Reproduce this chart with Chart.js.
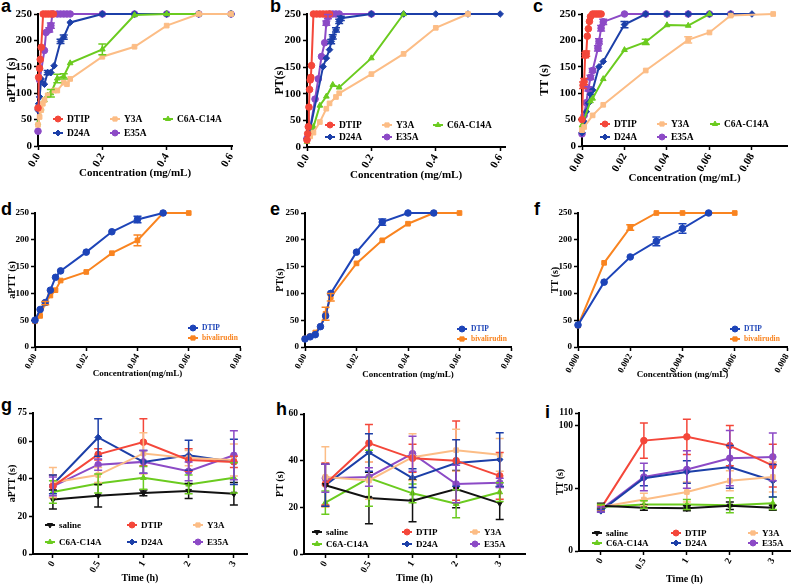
<!DOCTYPE html>
<html>
<head>
<meta charset="utf-8">
<script src="https://cdn.jsdelivr.net/npm/chart.js@4.4.0/dist/chart.umd.min.js"></script>
<style>
body { margin: 0; background: #fff; width: 796px; height: 584px; position: relative; overflow: hidden; }
canvas { position: absolute; }
.lbl { position: absolute; font: bold 18px "Liberation Sans", Arial, sans-serif; line-height: 18px; color: #000; }
</style>
</head>
<body>
<div class="lbl" style="left:1px;top:-3px">a</div>
<div class="lbl" style="left:270px;top:-3px">b</div>
<div class="lbl" style="left:533px;top:-3px">c</div>
<div class="lbl" style="left:1px;top:200px">d</div>
<div class="lbl" style="left:270px;top:200px">e</div>
<div class="lbl" style="left:534px;top:200px">f</div>
<div class="lbl" style="left:1px;top:396px">g</div>
<div class="lbl" style="left:276px;top:400px">h</div>
<div class="lbl" style="left:545px;top:403px">i</div>
<canvas id="ca"></canvas><canvas id="cb"></canvas><canvas id="cc"></canvas>
<canvas id="cd"></canvas><canvas id="ce"></canvas><canvas id="cf"></canvas>
<canvas id="cg"></canvas><canvas id="ch"></canvas><canvas id="ci"></canvas>
<script>
// ---- data: panel a (aPTT, mg/mL) ----
const aDTIPx = [0, 0.002, 0.005, 0.007, 0.01, 0.016, 0.024, 0.032, 0.04, 0.048];
const aDTIPy = [72, 130, 147, 164, 187, 250, 250, 250, 250, 250];
const aY3Ax = [0, 0.005, 0.01, 0.015, 0.02, 0.03, 0.05, 0.06, 0.08, 0.09, 0.1, 0.2, 0.3, 0.4, 0.5, 0.6];
const aY3Ay = [40, 55, 68, 80, 87, 96, 105, 105, 120, 117, 127, 169, 188, 228, 250, 250];
const aC6Ax = [0, 0.01, 0.02, 0.03, 0.04, 0.06, 0.08, 0.1, 0.2, 0.3, 0.4, 0.5, 0.6];
const aC6Ay = [43, 71, 87, 96, 100, 128, 132, 157, 183, 248, 250, 250, 250];
const aC6Ae = [0, 0, 0, 0, 7, 8, 5, 0, 10, 0, 0, 0, 0];
const aD24x = [0, 0.002, 0.005, 0.01, 0.02, 0.03, 0.04, 0.05, 0.07, 0.08, 0.1, 0.2, 0.3, 0.4, 0.5, 0.6];
const aD24y = [68, 80, 93, 127, 117, 139, 139, 152, 198, 206, 234, 250, 250, 250, 250, 250];
const aD24e = [0, 0, 0, 0, 0, 4, 0, 0, 4, 4, 0, 0, 0, 0, 0, 0];
const aE35x = [0, 0.005, 0.02, 0.025, 0.035, 0.04, 0.045, 0.06, 0.07, 0.08, 0.09, 0.1, 0.2, 0.3, 0.4, 0.5, 0.6];
const aE35y = [28, 125, 181, 215, 220, 228, 250, 250, 250, 250, 250, 250, 250, 250, 250, 250, 250];
const aE35e = [0, 0, 0, 0, 4, 5, 0, 0, 0, 0, 0, 0, 0, 0, 0, 0, 0];

// ---- panel b (PT) ----
const bDTIPx = [0, 0.002, 0.004, 0.006, 0.008, 0.01, 0.012, 0.014, 0.02, 0.03, 0.04, 0.05, 0.06, 0.07];
const bDTIPy = [13, 25, 38, 75, 108, 126, 131, 153, 250, 250, 250, 250, 250, 250];
const bY3Ax = [0, 0.01, 0.02, 0.04, 0.06, 0.07, 0.09, 0.1, 0.2, 0.3, 0.4, 0.5];
const bY3Ay = [13, 20, 27, 47, 72, 82, 94, 101, 137, 175, 224, 250];
const bC6Ax = [0, 0.02, 0.04, 0.06, 0.08, 0.1, 0.2, 0.3];
const bC6Ay = [10, 38, 78, 95, 117, 112, 167, 250];
const bD24x = [0, 0.01, 0.05, 0.06, 0.07, 0.075, 0.08, 0.09, 0.1, 0.105, 0.2, 0.3, 0.4, 0.5, 0.6];
const bD24y = [16, 35, 151, 167, 183, 198, 207, 220, 236, 242, 250, 250, 250, 250, 250];
const bD24e = [0, 0, 0, 0, 0, 4, 4, 4, 4, 4, 0, 0, 0, 0, 0];
const bE35x = [0, 0.005, 0.01, 0.025, 0.035, 0.045, 0.055, 0.06, 0.065, 0.07, 0.08, 0.09, 0.1, 0.2];
const bE35y = [16, 25, 35, 90, 128, 170, 196, 233, 245, 250, 250, 250, 250, 250];
const bE35e = [0, 0, 0, 0, 0, 0, 0, 4, 4, 0, 0, 0, 0, 0];

// ---- panel c (TT) ----
const cDTIPx = [0, 0.0005, 0.001, 0.0015, 0.002, 0.0025, 0.003, 0.0035, 0.004, 0.005, 0.006, 0.007, 0.008, 0.009];
const cDTIPy = [50, 115, 122, 172, 175, 208, 222, 236, 245, 250, 250, 250, 250, 250];
const cDTIPe = [0, 6, 6, 5, 5, 0, 0, 0, 0, 0, 0, 0, 0, 0];
const cY3Ax = [0, 0.001, 0.005, 0.01, 0.03, 0.05, 0.06, 0.07, 0.09];
const cY3Ay = [30, 36, 58, 78, 143, 201, 215, 247, 250];
const cY3Ae = [0, 0, 0, 0, 0, 6, 0, 0, 0];
const cC6Ax = [0, 0.004, 0.005, 0.01, 0.02, 0.03, 0.04, 0.05, 0.06];
const cC6Ay = [39, 85, 90, 127, 182, 197, 229, 228, 250];
const cC6Ae = [0, 0, 0, 0, 0, 5, 0, 0, 0];
const cD24x = [0, 0.001, 0.002, 0.003, 0.004, 0.005, 0.008, 0.01, 0.02, 0.03, 0.04, 0.05, 0.06, 0.07, 0.08];
const cD24y = [25, 46, 65, 81, 98, 106, 150, 160, 230, 250, 250, 250, 250, 250, 250];
const cD24e = [0, 0, 0, 0, 0, 0, 0, 0, 6, 0, 0, 0, 0, 0, 0];
const cE35x = [0, 0.001, 0.002, 0.003, 0.004, 0.005, 0.0075, 0.008, 0.009, 0.01, 0.02, 0.03, 0.04, 0.05, 0.06, 0.07];
const cE35y = [23, 58, 82, 108, 130, 143, 185, 198, 223, 235, 250, 250, 250, 250, 250, 250];
const cE35e = [0, 0, 0, 4, 4, 4, 5, 5, 5, 5, 0, 0, 0, 0, 0, 0];

// ---- panels d-f: DTIP vs bivalirudin ----
const dDTIPx = [0, 0.002, 0.004, 0.006, 0.008, 0.01, 0.02, 0.03, 0.04, 0.05];
const dDTIPy = [50, 70, 83, 106, 130, 142, 177, 215, 238, 250];
const dDTIPe = [0, 0, 0, 0, 0, 0, 0, 0, 6, 0];
const dBivx = [0, 0.002, 0.004, 0.006, 0.008, 0.01, 0.02, 0.03, 0.04, 0.05, 0.06];
const dBivy = [48, 58, 82, 96, 106, 124, 140, 175, 199, 250, 250];
const dBive = [0, 0, 3, 0, 0, 0, 0, 0, 10, 0, 0];

const eDTIPx = [0, 0.002, 0.004, 0.006, 0.008, 0.01, 0.02, 0.03, 0.04, 0.05];
const eDTIPy = [15, 19, 23, 38, 58, 100, 177, 233, 250, 250];
const eDTIPe = [0, 0, 0, 0, 0, 0, 0, 6, 0, 0];
const eBivx = [0, 0.002, 0.004, 0.006, 0.008, 0.01, 0.02, 0.03, 0.04, 0.05, 0.06];
const eBivy = [16, 20, 27, 38, 62, 93, 156, 199, 230, 250, 250];
const eBive = [0, 0, 0, 0, 12, 7, 0, 0, 0, 0, 0];

const fDTIPx = [0, 0.001, 0.002, 0.003, 0.004, 0.005];
const fDTIPy = [41, 121, 168, 197, 221, 250];
const fDTIPe = [0, 0, 0, 8, 9, 0];
const fBivx = [0, 0.001, 0.002, 0.003, 0.004, 0.005, 0.006];
const fBivy = [40, 157, 223, 250, 250, 250, 250];
const fBive = [0, 0, 5, 0, 0, 0, 0];

// ---- panels g-i: time course ----
const timeLabels = ['0', '0.5', '1', '2', '3'];
const gSaline = [29, 31, 32.5, 33.5, 32],   gSalineE = [5, 6, 1.5, 4, 6];
const gDTIP = [36, 53, 59.5, 50, 49],       gDTIPE = [6, 3, 12.5, 6, 3];
const gY3A = [38, 42, 53.5, 51, 50],        gY3AE = [8, 4, 11, 4, 8.5];
const gC6A = [33, 37.5, 40.5, 37, 40.5],    gC6AE = [6, 5, 6, 5, 8];
const gD24A = [37, 62, 49, 52.5, 49],       gD24AE = [5, 10, 6, 8, 12];
const gE35A = [36, 47.5, 49, 44, 52.5],     gE35AE = [5, 3, 6, 5, 13];

const hSaline = [29.5, 24, 22.8, 27.8, 21.8], hSalineE = [9, 11, 9, 8, 7];
const hDTIP = [30, 47.5, 41, 40, 33.5],       hDTIPE = [9, 8, 6, 17, 10];
const hY3A = [33, 31.5, 41.5, 44.5, 42.5],    hY3AE = [13, 8, 10, 9, 7];
const hC6A = [22, 32.5, 26, 21.5, 26.5],      hC6AE = [5, 12, 4, 6, 4];
const hD24A = [29.5, 43.5, 32.5, 39, 40.5],   hD24AE = [9, 8, 4, 10, 11.5];
const hE35A = [32.5, 33, 43, 30, 30.5],       hE35AE = [6, 4, 7.5, 8, 2];

const iSaline = [36, 34.5, 34, 36, 34.5], iSalineE = [2, 2, 2, 3, 2];
const iDTIP = [34, 88, 91, 84, 68],       iDTIPE = [2, 14, 14, 16, 17];
const iY3A = [35, 41, 47, 56, 59],        iY3AE = [2, 5, 8, 8, 12];
const iC6A = [35, 37, 37, 36.5, 38],      iC6AE = [2, 3, 4, 6, 5];
const iD24A = [32, 58, 63, 67, 56],       iD24AE = [1, 6, 9, 17, 13];
const iE35A = [33, 59, 65, 74, 75],       iE35AE = [2, 11, 15, 22, 19];

const RED = '#F4473A', PEACH = '#FCBD86', GREEN = '#6BCB1F', BLUE = '#1C3FA8', PURPLE = '#8C4AC6', BLACK = '#111111';
const DBLUE = '#1D44B8', ORANGE = '#F98420';
const SERIF = '"Liberation Serif", "Times New Roman", serif';

function xy(xs, ys) { return xs.map((x, i) => ({ x: x, y: ys[i] })); }
function idx(ys) { return ys.map((y, i) => ({ x: i, y: y })); }

function ser(label, color, style, data, err, r, rot) {
    return {
        label, data, errors: err, borderColor: color, backgroundColor: color,
        pointBackgroundColor: color, pointBorderColor: color, pointStyle: style,
        pointRadius: r || 3.3, pointBorderWidth: 1, pointRotation: rot || 0,
        borderWidth: 2, tension: 0, clip: false
    };
}

const errorBars = {
    id: 'errorBars',
    afterDatasetsDraw(chart) {
        const ctx = chart.ctx, ys = chart.scales.y;
        chart.data.datasets.forEach((ds, i) => {
            if (!ds.errors) return;
            const meta = chart.getDatasetMeta(i);
            ctx.save();
            ctx.strokeStyle = ds.borderColor;
            ctx.lineWidth = 1.5;
            meta.data.forEach((pt, j) => {
                const e = ds.errors[j];
                if (!e) return;
                const v = ds.data[j].y;
                const t = ys.getPixelForValue(v + e), b = ys.getPixelForValue(v - e);
                ctx.beginPath();
                ctx.moveTo(pt.x, t); ctx.lineTo(pt.x, b);
                ctx.moveTo(pt.x - 4, t); ctx.lineTo(pt.x + 4, t);
                ctx.moveTo(pt.x - 4, b); ctx.lineTo(pt.x + 4, b);
                ctx.stroke();
            });
            ctx.restore();
        });
    }
};

function makePanel(id, box, area, cfg) {
    const cv = document.getElementById(id);
    cv.width = box.w; cv.height = box.h;
    cv.style.left = box.x + 'px'; cv.style.top = box.y + 'px';
    const yLh = cfg.yTitleFont * 1.2, xLh = cfg.xTitleFont * 1.2;
    const padLeft = cfg.yTitleX - box.x - yLh / 2;
    const scaleBottom = cfg.xTitleY - box.y + xLh / 2;
    const lg = cfg.legend;

    const legendPlugin = {
        id: 'panelLegend',
        afterDraw(chart) {
            const ctx = chart.ctx;
            ctx.save();
            chart.data.datasets.forEach((ds, i) => {
                const cx = lg.cols[i % lg.cols.length] - box.x;
                const cy = lg.rows[Math.floor(i / lg.cols.length)] - box.y;
                ctx.strokeStyle = ds.borderColor;
                ctx.fillStyle = ds.borderColor;
                ctx.lineWidth = 2;
                ctx.beginPath(); ctx.moveTo(cx - 5, cy); ctx.lineTo(cx + 5, cy); ctx.stroke();
                ctx.lineWidth = 1;
                Chart.helpers.drawPoint(ctx, { pointStyle: ds.pointStyle, radius: 3, rotation: ds.pointRotation, borderWidth: 1 }, cx, cy);
                ctx.fillStyle = lg.colored ? ds.borderColor : '#000';
                ctx.font = 'bold ' + lg.font + 'px ' + SERIF;
                ctx.textBaseline = 'middle';
                ctx.textAlign = 'left';
                ctx.fillText(ds.label, cx + 9, cy + 0.5);
            });
            ctx.restore();
        }
    };

    const axisCommon = {
        type: 'linear',
        bounds: 'data',
        grid: { display: true, drawOnChartArea: false, drawTicks: true, tickLength: 4, tickWidth: 1.5, tickColor: '#000' },
        border: { display: true, color: '#000', width: 2 }
    };

    new Chart(cv, {
        type: 'line',
        data: { datasets: cfg.datasets },
        options: {
            responsive: false,
            animation: false,
            events: [],
            layout: { padding: { left: padLeft, top: area.t - box.y, right: box.x + box.w - area.r, bottom: box.h - scaleBottom } },
            plugins: { legend: { display: false }, tooltip: { enabled: false } },
            scales: {
                x: Object.assign({}, axisCommon, {
                    min: cfg.xMin, max: cfg.xMax,
                    ticks: {
                        stepSize: cfg.xStep, includeBounds: false, minRotation: 60, maxRotation: 60, padding: 1,
                        color: '#000', font: { family: SERIF, size: cfg.tickFont, weight: 'bold' },
                        callback: v => cfg.xLabels ? cfg.xLabels[Math.round(v)] : v.toFixed(cfg.xDec)
                    },
                    afterBuildTicks(s) {
                        if (cfg.xLabels) s.ticks = cfg.xLabels.map((_, i) => ({ value: i }));
                    },
                    title: { display: true, text: cfg.xTitle, color: '#000', padding: 0, font: { family: SERIF, size: cfg.xTitleFont, weight: 'bold' } },
                    afterFit(s) { s.height = scaleBottom - (area.b - box.y); s.paddingLeft = 0; s.paddingRight = 0; s.paddingTop = 0; s.paddingBottom = 0; }
                }),
                y: Object.assign({}, axisCommon, {
                    min: 0, max: cfg.yMax,
                    ticks: { stepSize: cfg.yStep, includeBounds: false, padding: 2, color: '#000', font: { family: SERIF, size: cfg.tickFont, weight: 'bold' } },
                    title: { display: true, text: cfg.yTitle, color: '#000', padding: 0, font: { family: SERIF, size: cfg.yTitleFont, weight: 'bold' } },
                    afterFit(s) { s.width = area.l - box.x - padLeft; s.paddingLeft = 0; s.paddingRight = 0; s.paddingTop = 0; s.paddingBottom = 0; }
                })
            }
        },
        plugins: [errorBars, legendPlugin]
    });
}

// ---- top row ----
const topBase = { tickFont: 11, xTitleFont: 11, yTitleFont: 12, yMax: 250, yStep: 50, xMin: 0 };

makePanel('ca', { x: 0, y: 0, w: 265, h: 195 }, { l: 38, t: 14, r: 232, b: 146 }, Object.assign({}, topBase, {
    yTitle: 'aPTT (s)', xTitle: 'Concentration (mg/mL)', yTitleX: 12, xTitleY: 173,
    xMax: 0.603, xStep: 0.2, xDec: 1,
    legend: { cols: [58, 115, 168], rows: [119, 133], font: 9.5, colored: false },
    datasets: [
        ser('DTIP', RED, 'circle', xy(aDTIPx, aDTIPy)),
        ser('Y3A', PEACH, 'rect', xy(aY3Ax, aY3Ay)),
        ser('C6A-C14A', GREEN, 'triangle', xy(aC6Ax, aC6Ay), aC6Ae),
        ser('D24A', BLUE, 'rectRot', xy(aD24x, aD24y), aD24e),
        ser('E35A', PURPLE, 'circle', xy(aE35x, aE35y), aE35e)
    ]
}));

makePanel('cb', { x: 265, y: 0, w: 265, h: 195 }, { l: 307, t: 14, r: 505, b: 147 }, Object.assign({}, topBase, {
    yTitle: 'PT(s)', xTitle: 'Concentration (mg/mL)', yTitleX: 280, xTitleY: 175,
    xMax: 0.615, xStep: 0.2, xDec: 1,
    legend: { cols: [330, 387, 438], rows: [125, 137], font: 9.5, colored: false },
    datasets: [
        ser('DTIP', RED, 'circle', xy(bDTIPx, bDTIPy)),
        ser('Y3A', PEACH, 'rect', xy(bY3Ax, bY3Ay)),
        ser('C6A-C14A', GREEN, 'triangle', xy(bC6Ax, bC6Ay)),
        ser('D24A', BLUE, 'rectRot', xy(bD24x, bD24y), bD24e),
        ser('E35A', PURPLE, 'circle', xy(bE35x, bE35y), bE35e)
    ]
}));

makePanel('cc', { x: 530, y: 0, w: 266, h: 195 }, { l: 582, t: 14, r: 787, b: 146 }, Object.assign({}, topBase, {
    yTitle: 'TT (s)', xTitle: 'Concentration (mg/mL)', yTitleX: 545, xTitleY: 178,
    xMax: 0.0965, xStep: 0.02, xDec: 2,
    legend: { cols: [605, 662, 715], rows: [124, 137], font: 9.5, colored: false },
    datasets: [
        ser('DTIP', RED, 'circle', xy(cDTIPx, cDTIPy), cDTIPe),
        ser('Y3A', PEACH, 'rect', xy(cY3Ax, cY3Ay), cY3Ae),
        ser('C6A-C14A', GREEN, 'triangle', xy(cC6Ax, cC6Ay), cC6Ae),
        ser('D24A', BLUE, 'rectRot', xy(cD24x, cD24y), cD24e),
        ser('E35A', PURPLE, 'circle', xy(cE35x, cE35y), cE35e)
    ]
}));

// ---- middle row ----
const midBase = { tickFont: 9, xTitleFont: 9, yTitleFont: 10, yMax: 250, yStep: 50, xMin: 0 };

makePanel('cd', { x: 0, y: 195, w: 265, h: 195 }, { l: 35, t: 213, r: 240, b: 347 }, Object.assign({}, midBase, {
    yTitle: 'aPTT (s)', xTitle: 'Concentration(mg/mL)', yTitleX: 12, xTitleY: 374,
    xMax: 0.08, xStep: 0.02, xDec: 2,
    legend: { cols: [193], rows: [328, 338], font: 7.5, colored: true },
    datasets: [
        ser('DTIP', DBLUE, 'circle', xy(dDTIPx, dDTIPy), dDTIPe),
        ser('bivalirudin', ORANGE, 'rect', xy(dBivx, dBivy), dBive)
    ]
}));

makePanel('ce', { x: 265, y: 195, w: 265, h: 195 }, { l: 305, t: 213, r: 511, b: 347 }, Object.assign({}, midBase, {
    yTitle: 'PT(s)', xTitle: 'Concentration (mg/mL)', yTitleX: 280, xTitleY: 375,
    xMax: 0.08, xStep: 0.02, xDec: 2,
    legend: { cols: [462], rows: [329, 339], font: 7.5, colored: true },
    datasets: [
        ser('DTIP', DBLUE, 'circle', xy(eDTIPx, eDTIPy), eDTIPe),
        ser('bivalirudin', ORANGE, 'rect', xy(eBivx, eBivy), eBive)
    ]
}));

makePanel('cf', { x: 530, y: 195, w: 266, h: 195 }, { l: 578, t: 213, r: 787, b: 347 }, Object.assign({}, midBase, {
    yTitle: 'TT (s)', xTitle: 'Concentration (mg/mL)', yTitleX: 555, xTitleY: 375,
    xMax: 0.008, xStep: 0.002, xDec: 3,
    legend: { cols: [735], rows: [329, 339], font: 7.5, colored: true },
    datasets: [
        ser('DTIP', DBLUE, 'circle', xy(fDTIPx, fDTIPy), fDTIPe),
        ser('bivalirudin', ORANGE, 'rect', xy(fBivx, fBivy), fBive)
    ]
}));

// ---- bottom row ----
const botBase = { tickFont: 9.5, xTitleFont: 10, yTitleFont: 10, xStep: 1, xLabels: timeLabels };

function timeSets(s, d, y3, c6, d24, e35) {
    return [
        ser('saline', BLACK, 'triangle', idx(s[0]), s[1], 3.3, 180),
        ser('DTIP', RED, 'circle', idx(d[0]), d[1]),
        ser('Y3A', PEACH, 'rect', idx(y3[0]), y3[1]),
        ser('C6A-C14A', GREEN, 'triangle', idx(c6[0]), c6[1]),
        ser('D24A', BLUE, 'rectRot', idx(d24[0]), d24[1]),
        ser('E35A', PURPLE, 'circle', idx(e35[0]), e35[1])
    ];
}

makePanel('cg', { x: 0, y: 390, w: 265, h: 194 }, { l: 33, t: 413, r: 247, b: 554 }, Object.assign({}, botBase, {
    yTitle: 'aPTT (s)', xTitle: 'Time (h)', yTitleX: 12, xTitleY: 578,
    xMin: -0.44, xMax: 4.29, yMax: 75, yStep: 20,
    legend: { cols: [50, 132, 198], rows: [525, 542], font: 9, colored: false },
    datasets: timeSets([gSaline, gSalineE], [gDTIP, gDTIPE], [gY3A, gY3AE], [gC6A, gC6AE], [gD24A, gD24AE], [gE35A, gE35AE])
}));

makePanel('ch', { x: 265, y: 390, w: 265, h: 194 }, { l: 304, t: 414, r: 531, b: 554 }, Object.assign({}, botBase, {
    yTitle: 'PT (s)', xTitle: 'Time (h)', yTitleX: 280, xTitleY: 578,
    xMin: -0.49, xMax: 4.58, yMax: 60, yStep: 20,
    legend: { cols: [317, 407, 475], rows: [532, 544], font: 9, colored: false },
    datasets: timeSets([hSaline, hSalineE], [hDTIP, hDTIPE], [hY3A, hY3AE], [hC6A, hC6AE], [hD24A, hD24AE], [hE35A, hE35AE])
}));

makePanel('ci', { x: 530, y: 390, w: 266, h: 194 }, { l: 579, t: 413, r: 790, b: 551 }, Object.assign({}, botBase, {
    yTitle: 'TT (s)', xTitle: 'Time (h)', yTitleX: 560, xTitleY: 579,
    xMin: -0.51, xMax: 4.4, yMax: 110, yStep: 50,
    legend: { cols: [597, 676, 753], rows: [533, 543], font: 9, colored: false },
    datasets: timeSets([iSaline, iSalineE], [iDTIP, iDTIPE], [iY3A, iY3AE], [iC6A, iC6AE], [iD24A, iD24AE], [iE35A, iE35AE])
}));
</script>
</body>
</html>
